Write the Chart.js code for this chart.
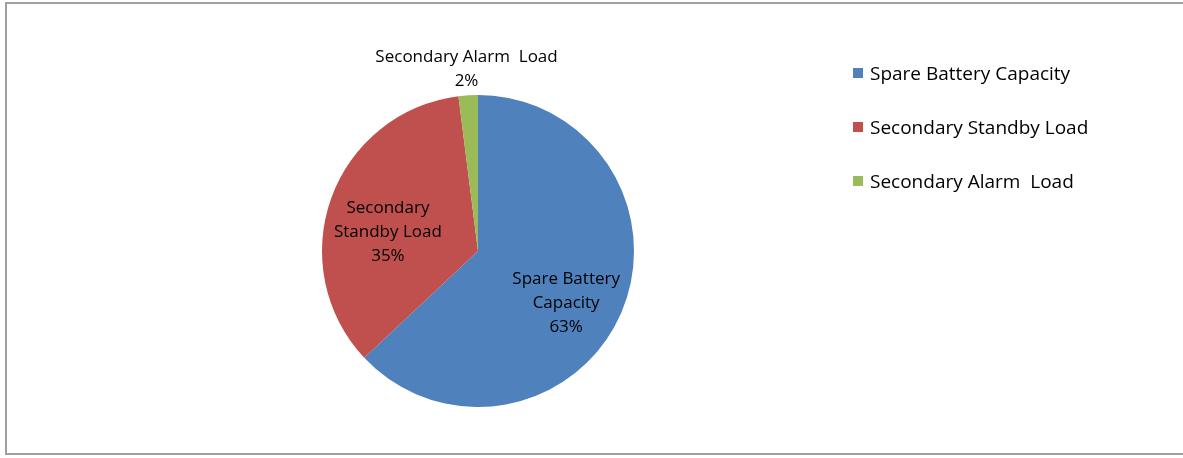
<!DOCTYPE html>
<html>
<head>
<meta charset="utf-8">
<script src="https://cdn.jsdelivr.net/npm/chart.js@4/dist/chart.umd.min.js"></script>
<style>
  html, body { margin: 0; padding: 0; background: #fff; }
  #wrap { position: relative; width: 1183px; height: 458px; overflow: hidden; }
  #frame { position: absolute; left: 5px; top: 2px; width: 1200px; height: 453px; border: 2px solid #a0a0a0; box-sizing: border-box; }
  canvas { position: absolute; left: 0; top: 0; }
  #legend { position: absolute; left: 853px; top: 60px; font-family: "Open Sans", sans-serif; font-size: 19px; color: #000; }
  #legend div { height: 54px; line-height: 26px; white-space: pre; }
  #legend span.box { display: inline-block; width: 10px; height: 10px; margin-right: 7px; vertical-align: 2px; }
</style>
</head>
<body>
<div id="wrap">
  <div id="frame"></div>
  <canvas id="pie" width="1183" height="458"></canvas>
  <div id="legend"></div>
</div>
<script>
const categories = ["Spare Battery Capacity", "Secondary Standby Load", "Secondary Alarm  Load"];
const values = [63, 35, 2];
const sliceLabels = [["Spare Battery", "Capacity", "63%"], ["Secondary", "Standby Load", "35%"], ["Secondary Alarm  Load", "2%"]];
const colors = ["#4F81BD", "#C0504D", "#9BBB59"];

// where each label sits: share of the radius, and a turn (degrees) from the slice middle
const labelRadius = [0.655, 0.59, 1.17];
const labelTurn = [7, -8, 0];

const sliceLabelPlugin = {
    id: "sliceLabels",
    afterDatasetsDraw(chart) {
        const ctx = chart.ctx;
        const arcs = chart.getDatasetMeta(0).data;
        ctx.save();
        ctx.font = "17px 'Open Sans', sans-serif";
        ctx.fillStyle = "#000";
        ctx.textAlign = "center";
        ctx.textBaseline = "middle";
        arcs.forEach((arc, i) => {
            const p = arc.getProps(["x", "y", "startAngle", "endAngle", "outerRadius"], true);
            const mid = (p.startAngle + p.endAngle) / 2 + labelTurn[i] * Math.PI / 180;
            const r = p.outerRadius * labelRadius[i];
            const cx = p.x + Math.cos(mid) * r;
            const cy = p.y + Math.sin(mid) * r;
            const lines = sliceLabels[i];
            const lh = 24;
            lines.forEach((t, k) => {
                ctx.fillText(t, cx, cy + (k - (lines.length - 1) / 2) * lh);
            });
        });
        ctx.restore();
    }
};

new Chart(document.getElementById("pie"), {
    type: "pie",
    data: {
        labels: categories,
        datasets: [{
            data: values,
            backgroundColor: colors,
            borderWidth: 0
        }]
    },
    options: {
        responsive: false,
        animation: false,
        layout: { padding: { left: 322, right: 549, top: 95, bottom: 51 } },
        plugins: {
            legend: { display: false },
            tooltip: { enabled: false }
        }
    },
    plugins: [sliceLabelPlugin]
});

const legend = document.getElementById("legend");
categories.forEach((c, i) => {
    const row = document.createElement("div");
    const box = document.createElement("span");
    box.className = "box";
    box.style.background = colors[i];
    row.appendChild(box);
    row.appendChild(document.createTextNode(c));
    legend.appendChild(row);
});
</script>
</body>
</html>
